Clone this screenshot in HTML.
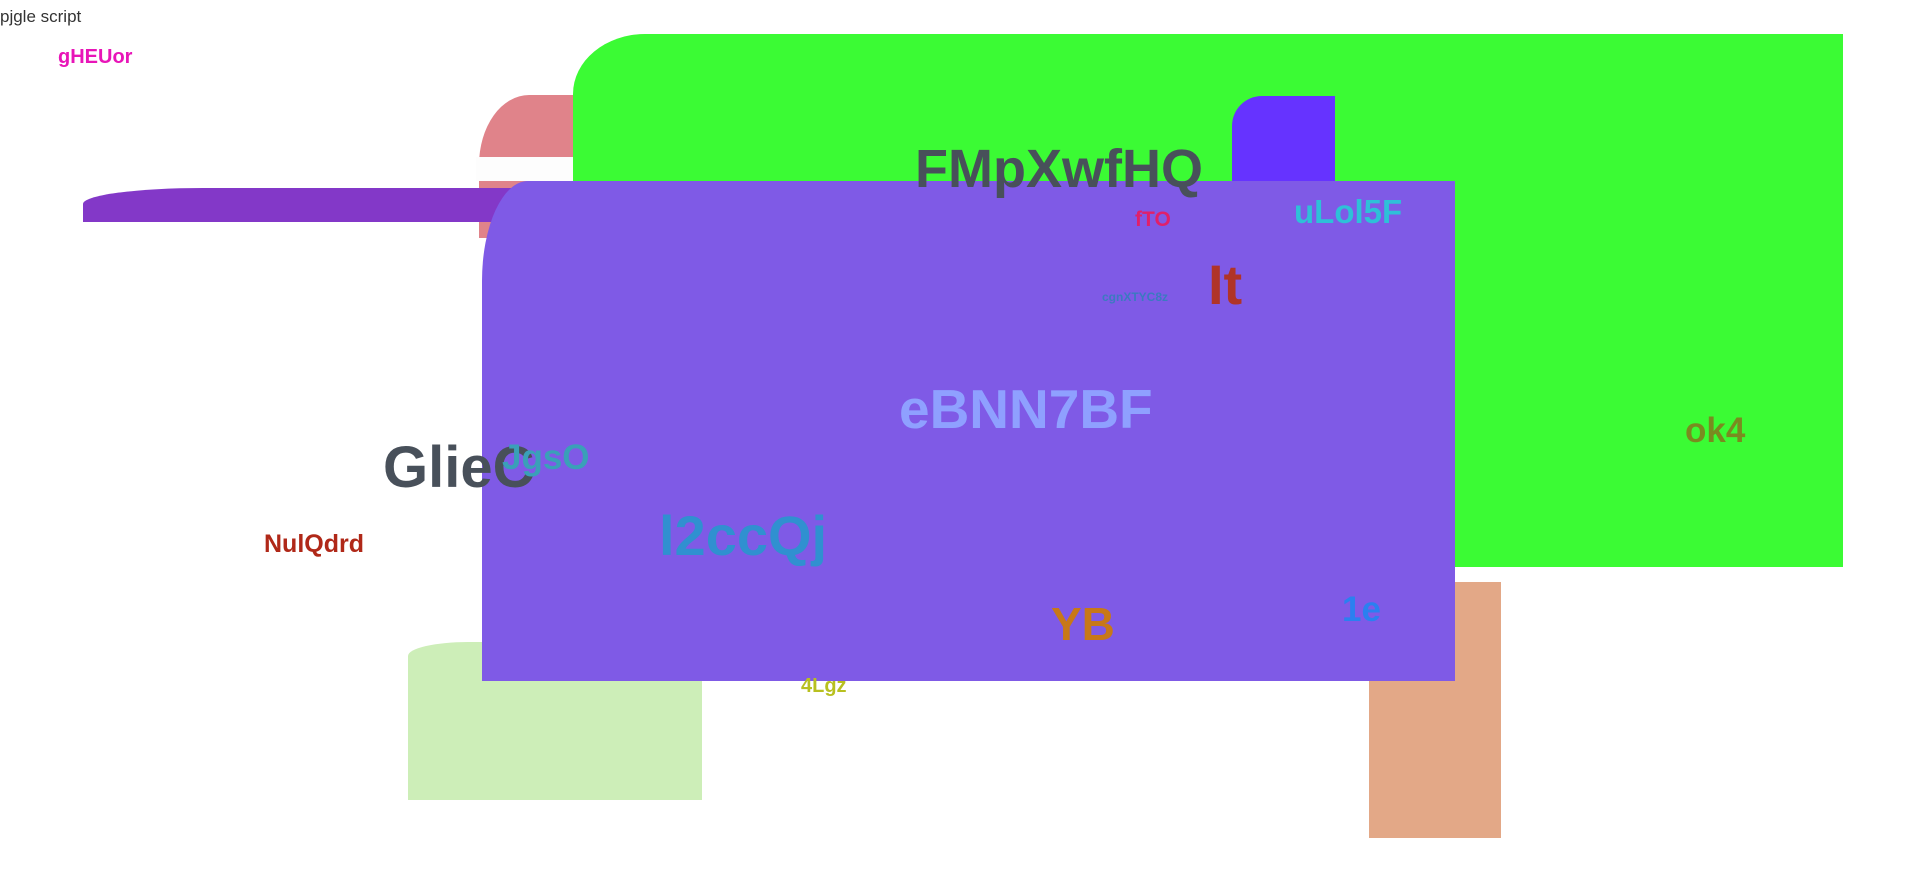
<!DOCTYPE html>
<html><head><meta charset="utf-8"><style>
html,body{margin:0;padding:0;background:#fff;width:1920px;height:870px;overflow:hidden;position:relative;font-family:"Liberation Sans",sans-serif}
.s{position:absolute}
.t{position:absolute;font-weight:bold;line-height:1;white-space:nowrap}
</style></head><body>
<div class="s" style="left:479px;top:95px;width:100px;height:143px;background:#e0838a;border-top-left-radius:50px 70px"></div>
<div class="s" style="left:476px;top:157px;width:100px;height:24px;background:#fdfdfd"></div>
<div class="s" style="left:83px;top:188px;width:500px;height:34px;background:#8338c8;border-top-left-radius:120px 16px"></div>
<div class="s" style="left:573px;top:34px;width:1270px;height:533px;background:#3bfb34;border-top-left-radius:72px 60px"></div>
<div class="s" style="left:1232px;top:96px;width:103px;height:100px;background:#6633ff;border-top-left-radius:30px"></div>
<div class="s" style="left:1369px;top:582px;width:132px;height:256px;background:#e3a887"></div>
<div class="s" style="left:408px;top:642px;width:294px;height:158px;background:#cdeeb8;border-top-left-radius:60px 14px"></div>
<div class="s" style="left:482px;top:181px;width:973px;height:500px;background:#7f5ae6;border-top-left-radius:46px 100px"></div>

<div class="t" style="left:0;top:8px;font-weight:normal;font-size:17px;color:#333">pjgle script</div>
<div class="t" style="left:58px;top:47px;font-size:20px;color:#e815b8">gHEUor</div>
<div class="t" style="left:915px;top:142px;font-size:54px;color:#48505a">FMpXwfHQ</div>
<div class="t" style="left:1135px;top:209px;font-size:21px;color:#e0206a">fTO</div>
<div class="t" style="left:1294px;top:195px;font-size:33px;color:#2ec0d8">uLol5F</div>
<div class="t" style="left:1208px;top:257px;font-size:56px;color:#b03428">It</div>
<div class="t" style="left:1102px;top:291px;font-size:12px;color:#3b7ac0">cgnXTYC8z</div>
<div class="t" style="left:899px;top:382px;font-size:55px;color:#8fa0ff">eBNN7BF</div>
<div class="t" style="left:1685px;top:413px;font-size:35px;color:#7a8a20">ok4</div>
<div class="t" style="left:383px;top:439px;font-size:58px;color:#48505a">GlieC</div>
<div class="t" style="left:502px;top:440px;font-size:35px;color:#3aa0b8">JgsO</div>
<div class="t" style="left:264px;top:532px;font-size:25px;color:#b02818">NulQdrd</div>
<div class="t" style="left:659px;top:508px;font-size:56px;color:#3090d0">l2ccQj</div>
<div class="t" style="left:1051px;top:601px;font-size:46px;color:#c87818">YB</div>
<div class="t" style="left:1342px;top:592px;font-size:35px;color:#2a80f0">1e</div>
<div class="t" style="left:801px;top:676px;font-size:20px;color:#b8c020">4Lgz</div>
</body></html>
